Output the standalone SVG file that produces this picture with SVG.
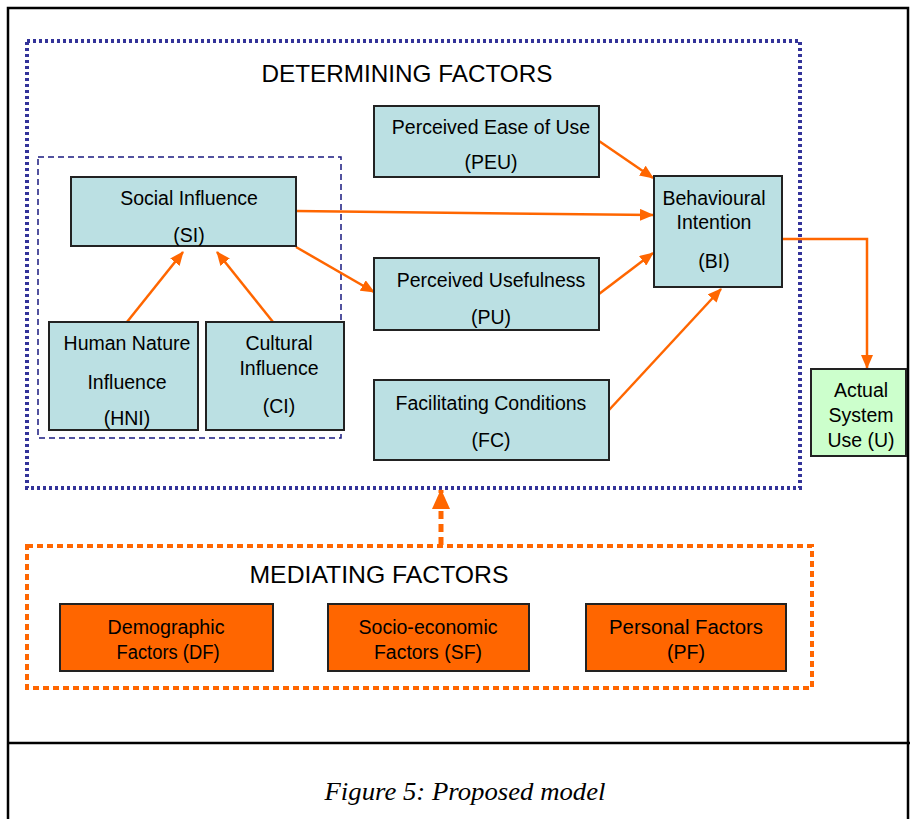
<svg xmlns="http://www.w3.org/2000/svg" width="910" height="819" viewBox="0 0 910 819">
<defs>
<marker id="ah" markerWidth="14" markerHeight="12" refX="13" refY="6" orient="auto" markerUnits="userSpaceOnUse">
<path d="M0,0 L14,6 L0,12 Z" fill="#FF6600"/>
</marker>
<marker id="ahb" markerWidth="20" markerHeight="18" refX="19" refY="9" orient="auto" markerUnits="userSpaceOnUse">
<path d="M0,0 L20,9 L0,18 Z" fill="#FF6600"/>
</marker>
<style>
.t{font-family:"Liberation Sans",Arial,sans-serif;font-size:19.5px;fill:#000;text-anchor:middle}
.n{font-family:"Liberation Sans",Arial,sans-serif;font-size:20px;fill:#000;text-anchor:middle}
.h{font-family:"Liberation Sans",Arial,sans-serif;font-size:24px;fill:#000;text-anchor:middle}
.b{fill:#BBE0E3;stroke:#222;stroke-width:2}
.g{fill:#CCFFCC;stroke:#222;stroke-width:2}
.o{fill:#FF6600;stroke:#222;stroke-width:2}
.c{stroke:#FF6600;stroke-width:2.5;fill:none;marker-end:url(#ah)}
</style>
</defs>
<rect x="0" y="0" width="910" height="819" fill="#fff"/>
<rect x="8" y="8" width="900" height="840" fill="none" stroke="#000" stroke-width="2.5"/>
<line x1="8" y1="743" x2="910" y2="743" stroke="#000" stroke-width="2.5"/>
<text x="465" y="800" textLength="281" lengthAdjust="spacingAndGlyphs" style="font-family:'Liberation Serif','Times New Roman',serif;font-style:italic;font-size:26px" text-anchor="middle">Figure 5: Proposed model</text>

<g id="determining">
<rect x="27" y="41" width="773" height="447" fill="none" stroke="#333399" stroke-width="4" stroke-dasharray="3 3"/>
<text class="h" x="407" y="82" textLength="291" lengthAdjust="spacingAndGlyphs">DETERMINING  FACTORS</text>
</g>
<g id="si-group">
<rect x="38" y="157" width="303" height="281" fill="none" stroke="#1a1a80" stroke-width="1.5" stroke-dasharray="6 4"/>
</g>
<g id="mediating">
<rect x="27" y="546" width="785" height="142" fill="none" stroke="#FF6600" stroke-width="4" stroke-dasharray="6 4"/>
<text class="h" x="379" y="583" textLength="259" lengthAdjust="spacingAndGlyphs">MEDIATING  FACTORS</text>
</g>

<g id="connectors">
<line class="c" x1="127" y1="322" x2="183" y2="252"/>
<line class="c" x1="273" y1="322" x2="217" y2="252"/>
<line class="c" x1="296" y1="211" x2="653" y2="215"/>
<line class="c" x1="296" y1="247" x2="374" y2="292"/>
<line class="c" x1="599" y1="141" x2="653" y2="178"/>
<line class="c" x1="599" y1="294" x2="653" y2="253"/>
<line class="c" x1="609" y1="410" x2="721" y2="289"/>
<polyline class="c" points="778,239 867,239 867,368"/>
<line x1="441" y1="545" x2="441" y2="490" stroke="#FF6600" stroke-width="5" stroke-dasharray="8 5" marker-end="url(#ahb)"/>
</g>

<g id="PEU">
<rect class="b" x="374" y="106" width="225" height="71"/>
<text class="t" x="491" y="134">Perceived Ease of Use</text>
<text class="t" x="491" y="169">(PEU)</text>
</g>
<g id="SI">
<rect class="b" x="71" y="177" width="225" height="69"/>
<text class="t" x="189" y="205">Social Influence</text>
<text class="t" x="189" y="242">(SI)</text>
</g>
<g id="PU">
<rect class="b" x="374" y="258" width="225" height="72"/>
<text class="t" x="491" y="287">Perceived Usefulness</text>
<text class="t" x="491" y="324">(PU)</text>
</g>
<g id="FC">
<rect class="b" x="374" y="380" width="235" height="80"/>
<text class="t" x="491" y="410">Facilitating Conditions</text>
<text class="t" x="491" y="447">(FC)</text>
</g>
<g id="BI">
<rect class="b" x="654" y="176" width="128" height="111"/>
<text class="t" x="714" y="205">Behavioural</text>
<text class="t" x="714" y="229">Intention</text>
<text class="t" x="714" y="268">(BI)</text>
</g>
<g id="HNI">
<rect class="b" x="49" y="322" width="149" height="108"/>
<text class="t" x="127" y="350">Human Nature</text>
<text class="t" x="127" y="389">Influence</text>
<text class="t" x="127" y="425">(HNI)</text>
</g>
<g id="CI">
<rect class="b" x="206" y="322" width="138" height="108"/>
<text class="t" x="279" y="350">Cultural</text>
<text class="t" x="279" y="375">Influence</text>
<text class="t" x="279" y="413">(CI)</text>
</g>
<g id="U">
<rect class="g" x="811" y="369" width="95" height="87"/>
<text class="t" x="861" y="397">Actual</text>
<text class="t" x="861" y="422">System</text>
<text class="t" x="861" y="447">Use (U)</text>
</g>
<g id="DF">
<rect class="o" x="60" y="604" width="213" height="67"/>
<text class="n" x="166" y="634" textLength="117" lengthAdjust="spacingAndGlyphs">Demographic</text>
<text class="n" x="168" y="659" textLength="103" lengthAdjust="spacingAndGlyphs">Factors (DF)</text>
</g>
<g id="SF">
<rect class="o" x="328" y="604" width="201" height="67"/>
<text class="n" x="428" y="634" textLength="139" lengthAdjust="spacingAndGlyphs">Socio-economic</text>
<text class="n" x="428" y="659" textLength="108" lengthAdjust="spacingAndGlyphs">Factors (SF)</text>
</g>
<g id="PF">
<rect class="o" x="586" y="604" width="200" height="67"/>
<text class="n" x="686" y="634" textLength="154" lengthAdjust="spacingAndGlyphs">Personal  Factors</text>
<text class="n" x="686" y="659" textLength="38" lengthAdjust="spacingAndGlyphs">(PF)</text>
</g>
</svg>
